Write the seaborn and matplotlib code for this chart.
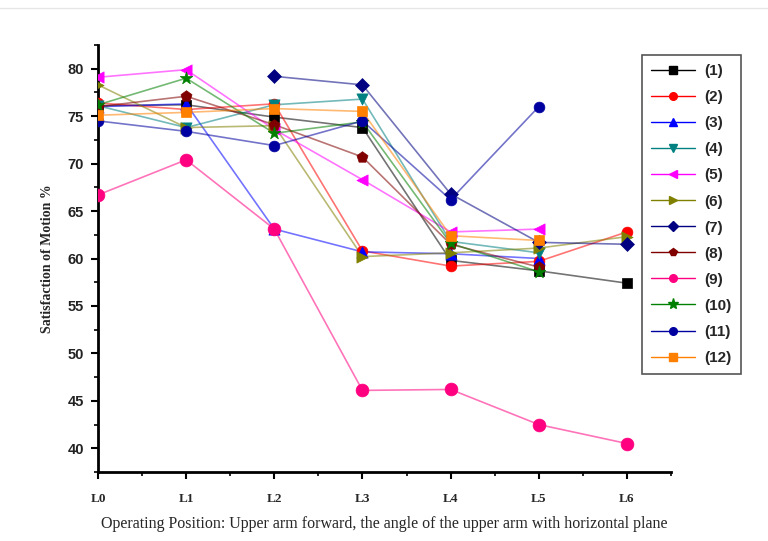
import numpy as np
import pandas as pd
import matplotlib
matplotlib.use("Agg")
import matplotlib.pyplot as plt
import seaborn as sns
from matplotlib.lines import Line2D
from matplotlib.ticker import MultipleLocator

positions = ["L0", "L1", "L2", "L3", "L4", "L5", "L6"]
nan = np.nan
s1 = [76.1, 76.2, 74.9, 73.8, 59.8, 58.7, 57.4]
s2 = [76.4, 75.7, 76.3, 60.8, 59.2, 59.7, 62.8]
s3 = [76.0, 76.3, 63.1, 60.7, 60.5, 60.0, nan]
s4 = [76.1, 73.8, 76.2, 76.8, 61.8, 60.6, nan]
s5 = [79.1, 79.9, 73.6, 68.3, 62.8, 63.1, nan]
s6 = [78.3, 73.8, 74.0, 60.2, 60.6, 61.1, 62.3]
s7 = [nan, nan, 79.2, 78.3, 66.8, 61.7, 61.5]
s8 = [76.0, 77.1, 74.1, 70.7, 61.5, 59.1, nan]
s9 = [66.7, 70.4, 63.1, 46.1, 46.2, 42.5, 40.5]
s10 = [76.2, 79.0, 73.2, 74.4, 61.6, 58.6, nan]
s11 = [74.5, 73.4, 71.9, 74.5, 66.2, 76.0, nan]
s12 = [75.1, 75.4, 75.8, 75.5, 62.4, 61.9, nan]
series_labels = ["(1)", "(2)", "(3)", "(4)", "(5)", "(6)", "(7)", "(8)", "(9)", "(10)", "(11)", "(12)"]
series_values = [s1, s2, s3, s4, s5, s6, s7, s8, s9, s10, s11, s12]

colors = ["#000000", "#FF0000", "#0000FF", "#008080", "#FF00FF", "#808000",
          "#000080", "#800000", "#FF0080", "#008000", "#0000A0", "#FF8000"]
markers = ["s", "o", "^", "v", "<", ">", "D", "p", "o", "*", "o", "s"]
sizes = [50, 60, 65, 65, 65, 65, 50, 70, 85, 90, 60, 50]

rows = []
for lab, vals in zip(series_labels, series_values):
    for i, v in enumerate(vals):
        rows.append({"series": lab, "pos": i, "value": v})
df = pd.DataFrame(rows)

sns.set_theme(style="white")
fig = plt.figure(figsize=(7.68, 5.41), dpi=100)
ax = fig.add_axes([98/768, 1-472/541, (671-98)/768, (472-45)/541])

for lab, c, m, sz in zip(series_labels, colors, markers, sizes):
    d = df[df["series"] == lab].dropna()
    sns.lineplot(data=d, x="pos", y="value", color=c, ax=ax, linewidth=1.2,
                 alpha=0.55, sort=False, estimator=None)
    sns.scatterplot(data=d, x="pos", y="value", color=c, marker=m, s=sz,
                    ax=ax, edgecolor=c, linewidth=0.5, zorder=5)

ax.set_xlim(0, 6.5)
ax.set_ylim(37.5, 82.5)
ax.set_xticks(range(len(positions)))
ax.set_xticklabels(positions, fontfamily="Liberation Serif", fontweight="bold", fontsize=9.5)
ax.xaxis.set_minor_locator(MultipleLocator(0.5))
ax.yaxis.set_major_locator(MultipleLocator(5))
ax.yaxis.set_minor_locator(MultipleLocator(2.5))
for t in ax.get_yticklabels():
    t.set_fontfamily("Liberation Sans")
    t.set_fontweight("bold")
    t.set_fontsize(10.5)
    t.set_color("#222222")
ax.tick_params(axis="both", which="major", direction="out", length=5, width=1.5,
               bottom=True, left=True, color="black")
ax.tick_params(axis="both", which="minor", direction="out", length=3, width=1.2,
               bottom=True, left=True, color="black")
ax.tick_params(axis="x", pad=10)
ax.tick_params(axis="y", pad=5)
for side in ["top", "right"]:
    ax.spines[side].set_visible(False)
for side in ["left", "bottom"]:
    ax.spines[side].set_color("black")
    ax.spines[side].set_linewidth(2)

ax.set_xlabel("Operating Position: Upper arm forward, the angle of the upper arm with horizontal plane",
              fontfamily="Liberation Serif", fontsize=11.5, labelpad=8)
ax.set_ylabel("Satisfaction of Motion %", fontfamily="Liberation Serif",
              fontweight="bold", fontsize=10, labelpad=10)

handles = [Line2D([0], [0], color=c, alpha=1, linewidth=1.0, marker=m,
                  markersize=5.5 if m != "*" else 8, markerfacecolor=c, markeredgecolor=c)
           for c, m in zip(colors, markers)]
leg = fig.legend(handles, series_labels, loc="upper left",
                 bbox_to_anchor=(642/768, 1-55/541), borderaxespad=0.0,
                 frameon=True, fancybox=False,
                 edgecolor="#555555", framealpha=1, handlelength=2.9,
                 labelspacing=0.79, borderpad=0.6, handletextpad=0.6,
                 prop={"family": "Liberation Sans", "weight": "bold", "size": 11})
leg.get_frame().set_linewidth(1.2)

fig.add_artist(Line2D([0.0, 1.0], [1-8/541, 1-8/541], color="#e6e6e6", linewidth=1,
                      transform=fig.transFigure))

fig.savefig("out.png", dpi=100)
